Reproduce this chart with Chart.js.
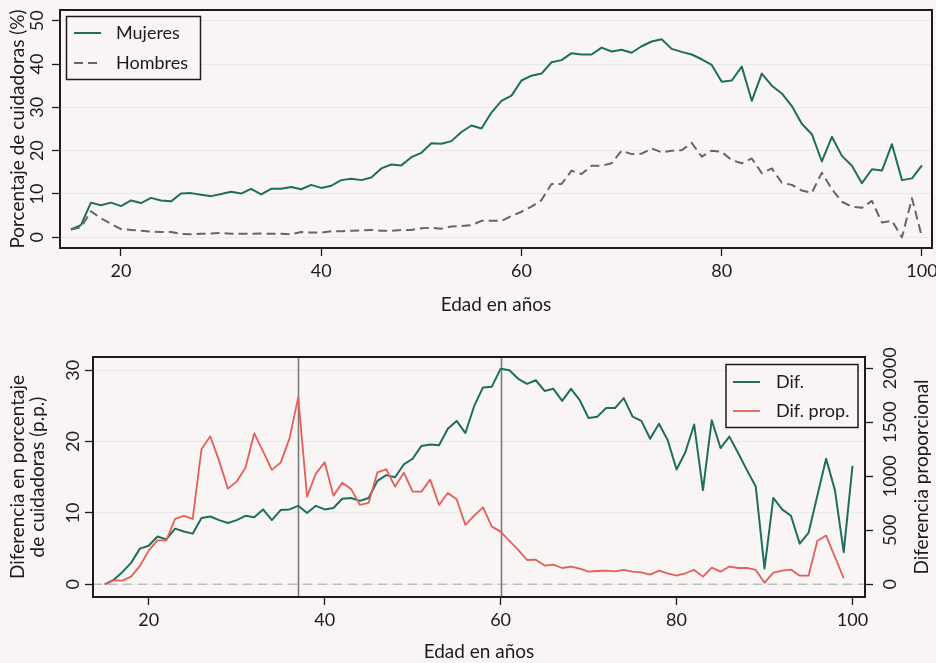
<!DOCTYPE html>
<html>
<head>
<meta charset="utf-8">
<script src="https://cdn.jsdelivr.net/npm/chart.js@4"></script>
<style>
  html, body { margin: 0; padding: 0; background: #f8f5f4; }
  #wrap { position: relative; width: 936px; height: 663px; overflow: hidden; }
  canvas { position: absolute; left: 0; }
  #cTop { top: 0; }
  #cBottom { top: 330px; }
</style>
</head>
<body>
<div id="wrap">
  <canvas id="cTop" width="936" height="330"></canvas>
  <canvas id="cBottom" width="936" height="333"></canvas>
</div>
<script>
// Edad (años)
const ages = [15,16,17,18,19,20,21,22,23,24,25,26,27,28,29,30,31,32,33,34,35,36,37,38,39,40,
  41,42,43,44,45,46,47,48,49,50,51,52,53,54,55,56,57,58,59,60,61,62,63,64,65,66,67,68,69,70,
  71,72,73,74,75,76,77,78,79,80,81,82,83,84,85,86,87,88,89,90,91,92,93,94,95,96,97,98,99,100];

// Porcentaje de cuidadoras (%)
const mujeres = [1.8,2.8,8.0,7.4,8.0,7.2,8.5,7.9,9.1,8.5,8.3,10.1,10.2,9.8,9.5,10.0,10.5,10.1,11.2,9.9,
  11.2,11.2,11.6,11.1,12.1,11.4,11.9,13.2,13.5,13.2,13.8,15.9,16.8,16.6,18.5,19.5,21.7,21.6,22.2,24.3,
  25.8,25.1,28.8,31.5,32.7,36.2,37.3,37.8,40.4,40.9,42.5,42.2,42.2,43.8,42.9,43.3,42.6,44.1,45.2,45.7,
  43.5,42.8,42.2,41.1,39.8,35.9,36.2,39.4,31.5,37.8,35.0,33.2,30.3,26.2,23.8,17.5,23.2,18.8,16.5,12.5,
  15.7,15.4,21.5,13.2,13.6,16.6];
const hombres = [1.8,2.3,6.0,4.4,3.1,1.9,1.7,1.5,1.3,1.2,1.2,0.8,0.7,0.8,0.9,1.0,0.8,0.8,0.8,0.9,
  0.8,0.8,0.7,1.2,1.1,1.1,1.4,1.4,1.5,1.6,1.7,1.5,1.5,1.7,1.7,2.1,2.2,2.0,2.5,2.6,
  2.8,3.8,3.8,3.8,4.9,5.9,7.1,8.6,12.3,12.3,15.4,14.6,16.5,16.5,17.1,20.0,19.2,19.3,20.5,19.6,
  20.0,20.1,21.8,18.6,20.0,19.7,17.8,17.1,18.2,14.8,15.9,12.6,12.1,10.8,10.3,14.9,11.1,8.2,7.1,6.8,
  8.4,3.4,3.8,0.0,9.0,0.0];

// Diferencia en p.p. y diferencia proporcional
const dif = [0,0.6,1.7,3.0,5.0,5.4,6.7,6.3,7.8,7.4,7.1,9.3,9.5,9.0,8.6,9.0,9.6,9.4,10.5,9.0,
  10.4,10.5,11.0,10.0,11.0,10.5,10.7,12.0,12.1,11.7,12.1,14.5,15.3,15.0,16.8,17.6,19.4,19.6,19.5,21.8,
  22.9,21.2,25.0,27.6,27.7,30.2,30.0,28.8,28.1,28.6,27.1,27.4,25.7,27.4,25.8,23.3,23.5,24.7,24.7,26.1,
  23.5,22.9,20.4,22.5,20.2,16.1,18.5,22.4,13.2,23.0,19.1,20.7,18.4,16.0,13.7,2.2,12.1,10.5,9.6,5.7,
  7.2,12.4,17.6,13.2,4.5,16.6];
const difProp = [0,37,34,71,170,312,407,407,605,633,605,1250,1370,1145,886,951,1080,1398,1231,1059,
  1127,1349,1731,812,1025,1130,821,941,883,735,753,1037,1065,904,1034,858,858,969,735,846,
  787,549,636,713,534,488,401,318,225,228,173,182,151,164,145,117,123,127,120,133,
  117,111,90,127,102,80,102,133,71,154,117,164,151,151,133,15,108,127,136,80,
  80,401,451,null,56,null];

// Ejes
const ageTicks = [20, 40, 60, 80, 100];
const pctTicks = [0, 10, 20, 30, 40, 50];
const difTicks = [0, 10, 20, 30];
const propTicks = [0, 500, 1000, 1500, 2000];
const markAges = [37, 60];

const TICK_FONT = '18px Lato, "Noto Sans", sans-serif';
const TITLE_FONT = '19px Lato, "Noto Sans", sans-serif';
const INK = '#1c1c1c';
const BG = '#f8f5f4';
const GREEN = '#1f6e5d';
const RED = '#e3605a';
const GREY = '#666666';

function points(values) {
  return ages.map((a, i) => ({ x: a, y: values[i] }));
}
function fixedTicks(values) {
  return scale => { scale.ticks = values.map(v => ({ value: v })); };
}
function vtext(ctx, s, x, y) {
  ctx.save();
  ctx.translate(x, y);
  ctx.rotate(-Math.PI / 2);
  ctx.textAlign = 'center';
  ctx.textBaseline = 'middle';
  ctx.fillText(s, 0, 0);
  ctx.restore();
}

// Marco, rótulos de ejes y leyenda de cada panel
function makeFrame(cfg) {
  return {
    id: 'frame',
    beforeDatasetsDraw(chart) {
      const { ctx, chartArea: a, scales } = chart;
      ctx.save();
      if (cfg.zeroLine) {
        const y = scales.y.getPixelForValue(0);
        ctx.strokeStyle = '#bdbdbd';
        ctx.lineWidth = 1.6;
        ctx.setLineDash([9, 6]);
        ctx.beginPath(); ctx.moveTo(a.left, y); ctx.lineTo(a.right, y); ctx.stroke();
        ctx.setLineDash([]);
      }
      (cfg.marks || []).forEach(v => {
        const x = Math.round(scales.x.getPixelForValue(v)) + 0.5;
        ctx.strokeStyle = '#7a7a7a';
        ctx.lineWidth = 1.6;
        ctx.beginPath(); ctx.moveTo(x, a.top); ctx.lineTo(x, a.bottom); ctx.stroke();
      });
      ctx.restore();
    },
    afterDraw(chart) {
      const { ctx, chartArea: a, scales } = chart;
      ctx.save();
      // frame
      ctx.strokeStyle = INK;
      ctx.lineWidth = 2;
      ctx.strokeRect(a.left, a.top, a.right - a.left, a.bottom - a.top);
      ctx.fillStyle = INK;
      // x tick labels and title
      ctx.font = TICK_FONT;
      ctx.textAlign = 'center';
      ctx.textBaseline = 'middle';
      scales.x.ticks.forEach(t => {
        ctx.fillText(String(t.value), scales.x.getPixelForValue(t.value), cfg.xLabelY);
      });
      ctx.font = TITLE_FONT;
      ctx.fillText(cfg.xTitle, (a.left + a.right) / 2, cfg.xTitleY);
      // y axes
      const midY = (a.top + a.bottom) / 2;
      cfg.yAxes.forEach(ax => {
        const s = scales[ax.id];
        ctx.font = TICK_FONT;
        s.ticks.forEach(t => vtext(ctx, String(t.value), ax.labelX, s.getPixelForValue(t.value)));
        ctx.font = TITLE_FONT;
        ax.title.forEach((line, i) => vtext(ctx, line, ax.titleX[i], midY));
      });
      // legend
      const L = cfg.legend;
      ctx.fillStyle = BG;
      ctx.fillRect(L.x, L.y, L.w, L.h);
      ctx.strokeStyle = INK;
      ctx.lineWidth = 1.5;
      ctx.strokeRect(L.x, L.y, L.w, L.h);
      ctx.font = TICK_FONT;
      chart.data.datasets.forEach((ds, i) => {
        const y = L.rowY[i];
        ctx.strokeStyle = ds.borderColor;
        ctx.lineWidth = ds.borderWidth;
        ctx.setLineDash(ds.borderDash || []);
        ctx.beginPath(); ctx.moveTo(L.lineX[0], y); ctx.lineTo(L.lineX[1], y); ctx.stroke();
        ctx.setLineDash([]);
        ctx.fillStyle = INK;
        ctx.textAlign = 'left';
        ctx.textBaseline = 'middle';
        ctx.fillText(ds.label, L.textX, y);
      });
      ctx.restore();
    }
  };
}

function baseScale(extra) {
  return Object.assign({
    type: 'linear',
    ticks: { display: false },
    border: { display: false },
    grid: { drawOnChartArea: false, drawTicks: true, tickLength: 8, tickColor: INK, tickWidth: 1.3 }
  }, extra);
}

const lineDefaults = { fill: false, pointRadius: 0, tension: 0, borderJoinStyle: 'round' };

// Panel superior: porcentaje de cuidadoras por sexo
new Chart(document.getElementById('cTop'), {
  type: 'line',
  data: {
    datasets: [
      Object.assign({ label: 'Mujeres', data: points(mujeres), borderColor: GREEN, borderWidth: 2, order: 2 }, lineDefaults),
      Object.assign({ label: 'Hombres', data: points(hombres), borderColor: GREY, borderWidth: 2, borderDash: [9, 5], order: 1 }, lineDefaults)
    ]
  },
  options: {
    responsive: false,
    animation: false,
    devicePixelRatio: 1,
    layout: { padding: { top: 10, right: 4, left: 0, bottom: 0 } },
    plugins: { legend: { display: false }, tooltip: { enabled: false } },
    scales: {
      x: baseScale({ position: 'bottom', min: 13.91, max: 101.0, afterBuildTicks: fixedTicks(ageTicks),
        afterFit: s => { s.height = 82; } }),
      y: baseScale({ position: 'left', min: -2.47, max: 52.47, afterBuildTicks: fixedTicks(pctTicks),
        afterFit: s => { s.width = 60; },
        grid: { drawOnChartArea: true, color: '#ebe9e8', lineWidth: 1, drawTicks: true, tickLength: 8, tickColor: INK, tickWidth: 1.3 } })
    }
  },
  plugins: [makeFrame({
    xLabelY: 271, xTitle: 'Edad en años', xTitleY: 305,
    yAxes: [{ id: 'y', labelX: 37, title: ['Porcentaje de cuidadoras (%)'], titleX: [18] }],
    legend: { x: 66.5, y: 16.5, w: 134, h: 63, rowY: [33, 63], lineX: [74, 101], textX: 116 }
  })]
});

// Panel inferior: diferencia absoluta y proporcional
new Chart(document.getElementById('cBottom'), {
  type: 'line',
  data: {
    datasets: [
      Object.assign({ label: 'Dif.', data: points(dif), yAxisID: 'y', borderColor: GREEN, borderWidth: 2, order: 2 }, lineDefaults),
      Object.assign({ label: 'Dif. prop.', data: points(difProp), yAxisID: 'y2', borderColor: RED, borderWidth: 1.8, spanGaps: true, order: 1 }, lineDefaults)
    ]
  },
  options: {
    responsive: false,
    animation: false,
    devicePixelRatio: 1,
    layout: { padding: { top: 27, right: 0, left: 0, bottom: 0 } },
    plugins: { legend: { display: false }, tooltip: { enabled: false } },
    scales: {
      x: baseScale({ position: 'bottom', min: 13.67, max: 101.42, afterBuildTicks: fixedTicks(ageTicks),
        afterFit: s => { s.height = 66; } }),
      y: baseScale({ position: 'left', min: -1.78, max: 31.86, afterBuildTicks: fixedTicks(difTicks),
        afterFit: s => { s.width = 93; },
        grid: { drawOnChartArea: true, color: '#ebe9e8', lineWidth: 1, drawTicks: true, tickLength: 8, tickColor: INK, tickWidth: 1.3 } }),
      y2: baseScale({ position: 'right', min: -117.6, max: 2104.6, afterBuildTicks: fixedTicks(propTicks),
        afterFit: s => { s.width = 71; } })
    }
  },
  plugins: [makeFrame({
    zeroLine: true, marks: markAges,
    xLabelY: 290, xTitle: 'Edad en años', xTitleY: 322,
    yAxes: [
      { id: 'y', labelX: 73, title: ['Diferencia en porcentaje', 'de cuidadoras (p.p.)'], titleX: [18, 38] },
      { id: 'y2', labelX: 890, title: ['Diferencia proporcional'], titleX: [922] }
    ],
    legend: { x: 726, y: 34.5, w: 132, h: 63, rowY: [52, 81], lineX: [733, 760], textX: 776 }
  })]
});
</script>
</body>
</html>
